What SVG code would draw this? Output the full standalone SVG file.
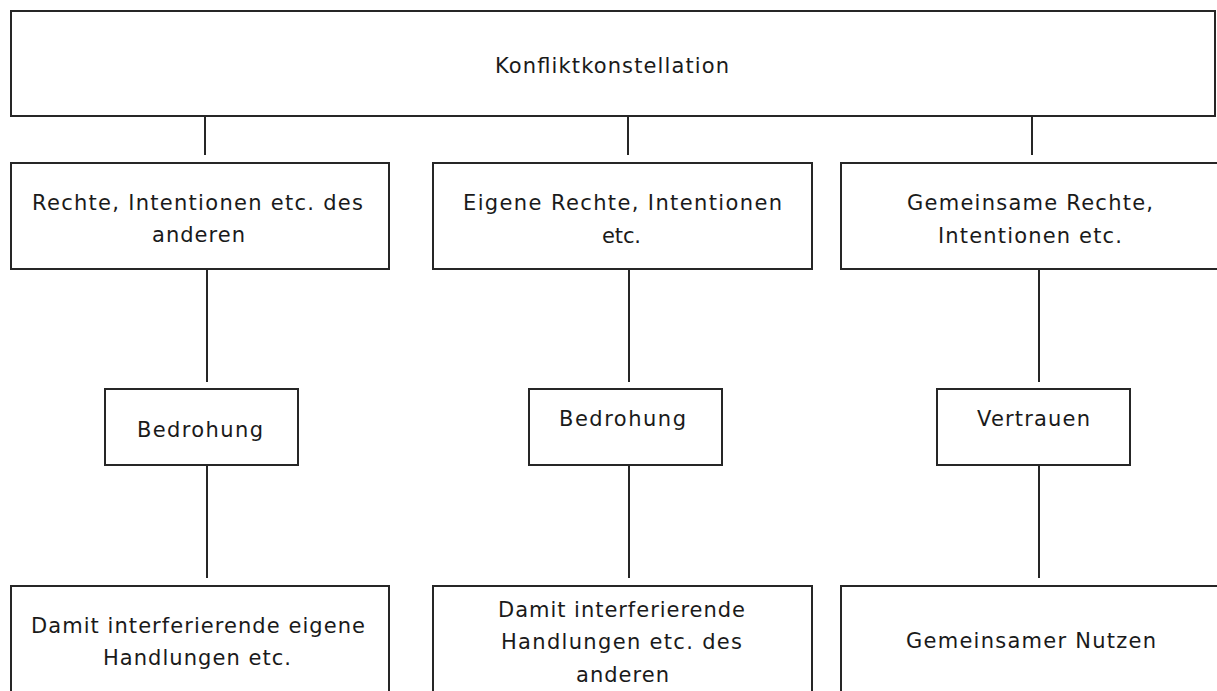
<svg xmlns="http://www.w3.org/2000/svg" width="1217" height="691" viewBox="0 0 1217 691">
  <style>
    .box { fill: #ffffff; stroke: #262626; stroke-width: 2; }
    .conn line { stroke: #262626; stroke-width: 2; }
    .lbl { font-family: "DejaVu Sans", Verdana, sans-serif; font-size: 21px; fill: #1a1a1a; }
  </style>
  <rect width="1217" height="691" fill="#ffffff"/>

  <g id="connectors" class="conn">
    <line x1="205" y1="116" x2="205" y2="155"/>
    <line x1="628" y1="116" x2="628" y2="155"/>
    <line x1="1032" y1="116" x2="1032" y2="155"/>
    <line x1="207" y1="269" x2="207" y2="382"/>
    <line x1="629" y1="269" x2="629" y2="382"/>
    <line x1="1039" y1="269" x2="1039" y2="382"/>
    <line x1="207" y1="465" x2="207" y2="578"/>
    <line x1="629" y1="465" x2="629" y2="578"/>
    <line x1="1039" y1="465" x2="1039" y2="578"/>
  </g>

  <g id="konfliktkonstellation">
    <rect class="box" x="11" y="11" width="1204" height="105"/>
    <text class="lbl" x="495" y="73" textLength="234" lengthAdjust="spacing">Konfliktkonstellation</text>
  </g>

  <g id="rechte-anderer">
    <rect class="box" x="11" y="163" width="378" height="106"/>
    <text class="lbl" x="32" y="210" textLength="331" lengthAdjust="spacing">Rechte, Intentionen etc. des</text>
    <text class="lbl" x="152" y="242" textLength="93" lengthAdjust="spacing">anderen</text>
  </g>

  <g id="eigene-rechte">
    <rect class="box" x="433" y="163" width="379" height="106"/>
    <text class="lbl" x="463" y="210" textLength="319" lengthAdjust="spacing">Eigene Rechte, Intentionen</text>
    <text class="lbl" x="602" y="243" textLength="39" lengthAdjust="spacing">etc.</text>
  </g>

  <g id="gemeinsame-rechte">
    <rect class="box" x="841" y="163" width="380" height="106"/>
    <text class="lbl" x="907" y="210" textLength="246" lengthAdjust="spacing">Gemeinsame Rechte,</text>
    <text class="lbl" x="938" y="243" textLength="184" lengthAdjust="spacing">Intentionen etc.</text>
  </g>

  <g id="bedrohung-links">
    <rect class="box" x="105" y="389" width="193" height="76"/>
    <text class="lbl" x="137" y="437" textLength="126" lengthAdjust="spacing">Bedrohung</text>
  </g>

  <g id="bedrohung-mitte">
    <rect class="box" x="529" y="389" width="193" height="76"/>
    <text class="lbl" x="559" y="426" textLength="127" lengthAdjust="spacing">Bedrohung</text>
  </g>

  <g id="vertrauen">
    <rect class="box" x="937" y="389" width="193" height="76"/>
    <text class="lbl" x="977" y="426" textLength="113" lengthAdjust="spacing">Vertrauen</text>
  </g>

  <g id="eigene-handlungen">
    <rect class="box" x="11" y="586" width="378" height="120"/>
    <text class="lbl" x="31" y="633" textLength="334" lengthAdjust="spacing">Damit interferierende eigene</text>
    <text class="lbl" x="103" y="665" textLength="188" lengthAdjust="spacing">Handlungen etc.</text>
  </g>

  <g id="handlungen-anderer">
    <rect class="box" x="433" y="586" width="379" height="120"/>
    <text class="lbl" x="498" y="617" textLength="247" lengthAdjust="spacing">Damit interferierende</text>
    <text class="lbl" x="501" y="649" textLength="241" lengthAdjust="spacing">Handlungen etc. des</text>
    <text class="lbl" x="576" y="682" textLength="93" lengthAdjust="spacing">anderen</text>
  </g>

  <g id="gemeinsamer-nutzen">
    <rect class="box" x="841" y="586" width="380" height="120"/>
    <text class="lbl" x="906" y="648" textLength="250" lengthAdjust="spacing">Gemeinsamer Nutzen</text>
  </g>
</svg>
